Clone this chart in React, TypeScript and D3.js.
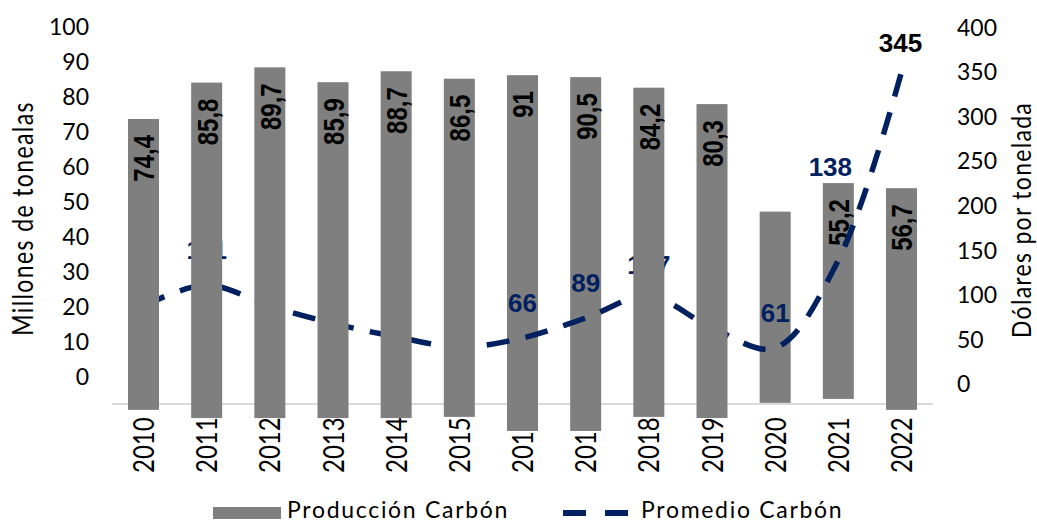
import React from "react";
import * as d3 from "d3";

// categories and values
const years = ["2010", "2011", "2012", "2013", "2014", "2015", "2016", "2017", "2018", "2019", "2020", "2021", "2022"];
const yearTicks = ["2010", "2011", "2012", "2013", "2014", "2015", "201", "201", "2018", "2019", "2020", "2021", "2022"];
const production = [74.4, 85.8, 89.7, 85.9, 88.7, 86.5, 91, 90.5, 84.2, 80.3, 48.9, 55.2, 56.7];
const productionLabels = ["74,4", "85,8", "89,7", "85,9", "88,7", "86,5", "91", "90,5", "84,2", "80,3", "", "55,2", "56,7"];
// how far each bar hangs below the zero line (same units as production)
const barDrop = [1.5, 3.6, 3.6, 3.6, 3.6, 3.3, 6.9, 6.9, 3.3, 3.6, -0.3, -1.3, 1.5];
const price = [87.5, 111, 87.5, 68, 53, 41.5, 51.6, 74, 98.7, 63, 40.4, 139, 350];
const priceLabels = ["", "111", "", "", "", "", "66", "89", "107", "", "61", "138", "345"];
const leftTicks = [0, 10, 20, 30, 40, 50, 60, 70, 80, 90, 100];
const rightTicks = [0, 50, 100, 150, 200, 250, 300, 350, 400];
// years where the price line is drawn over the bar
const lineOverBar = ["2016", "2017", "2020", "2021", "2022"];

const W = 1037;
const H = 522;
const navy = "#002060";
const grey = "#7f7f7f";
const axisFont = "Lato, 'Open Sans', sans-serif";
const boldFont = "'Liberation Sans', Arial, sans-serif";

const x = d3.scalePoint<string>().domain(years).range([143.5, 901.5]);
const yLeft = d3.scaleLinear().domain([0, 100]).range([376.7, 26.7]);
const yRight = d3.scaleLinear().domain([0, 400]).range([384, 27.4]);
const yBar = d3.scaleLinear().domain([0, 100]).range([404, 13]);
const barW = 31;

const labelNudge: Record<string, { dx: number; lift: number }> = {
  "2018": { dx: 0, lift: 31 },
  "2021": { dx: -8, lift: 93 },
  "2022": { dx: -1, lift: 29 },
};

const pricePath = d3
  .line<number>()
  .x((_, i) => x(years[i]) as number)
  .y((d) => yRight(d))
  .curve(d3.curveCatmullRom.alpha(0.5))(price) as string;

const Bar = ({ i }: { i: number }) => {
  const cx = x(years[i]) as number;
  const top = yBar(production[i] - barDrop[i]);
  const bottom = yBar(-barDrop[i]);
  return (
    <g>
      <rect x={cx - barW / 2} y={top} width={barW} height={bottom - top} fill={grey} />
      {productionLabels[i] && (
        <text
          transform={`translate(${cx},${top + 16}) rotate(-90) scale(1,1.26)`}
          textAnchor="end"
          dy="0.36em"
          fontFamily={boldFont}
          fontWeight="bold"
          fontSize={24}
          fill="#000"
        >
          {productionLabels[i]}
        </text>
      )}
    </g>
  );
};

const PriceLine = () => (
  <g>
    <path d={pricePath} fill="none" stroke={navy} strokeWidth={5.5} strokeDasharray="23 16.5" />
    {priceLabels.map((t, i) => {
      if (!t) return null;
      const nudge = labelNudge[years[i]] || { dx: 0, lift: 35 };
      return (
        <text
          key={years[i]}
          x={(x(years[i]) as number) + nudge.dx}
          y={yRight(price[i]) - nudge.lift}
          dy="0.36em"
          textAnchor="middle"
          fontFamily={boldFont}
          fontWeight="bold"
          fontSize={26}
          fill={years[i] === "2022" ? "#000" : navy}
        >
          {t}
        </text>
      );
    })}
  </g>
);

export default function App() {
  const under = years.map((_, i) => i).filter((i) => lineOverBar.includes(years[i]));
  const over = years.map((_, i) => i).filter((i) => !lineOverBar.includes(years[i]));
  return (
    <svg
      width={W}
      height={H}
      style={{ position: "absolute", left: 0, top: 0, background: "#fff" }}
    >
      {/* left axis */}
      {leftTicks.map((t) => (
        <text key={t} x={89} y={yLeft(t)} dy="0.36em" textAnchor="end" fontFamily={axisFont} fontSize={23} fill="#000">
          {t}
        </text>
      ))}
      <text
        transform={`translate(23,218.5) rotate(-90) scale(1,1.22)`}
        textAnchor="middle"
        dy="0.36em"
        fontFamily={axisFont}
        fontSize={23}
        letterSpacing={1.4}
        fill="#000"
      >
        Millones de tonealas
      </text>

      {/* right axis */}
      {rightTicks.map((t) => (
        <text key={t} x={957} y={yRight(t)} dy="0.36em" textAnchor="start" fontFamily={axisFont} fontSize={23} fill="#000">
          {t}
        </text>
      ))}
      <text
        transform={`translate(1021,220) rotate(-90) scale(1,1.2)`}
        textAnchor="middle"
        dy="0.36em"
        fontFamily={axisFont}
        fontSize={23}
        letterSpacing={1.3}
        fill="#000"
      >
        Dólares por tonelada
      </text>

      {/* baseline */}
      <line x1={112} x2={933} y1={404} y2={404} stroke="#d9d9d9" strokeWidth={2} />

      {under.map((i) => (
        <Bar key={years[i]} i={i} />
      ))}
      <PriceLine />
      {over.map((i) => (
        <Bar key={years[i]} i={i} />
      ))}

      {/* category labels */}
      {yearTicks.map((t, i) => (
        <text
          key={years[i]}
          transform={`translate(${x(years[i])},473) rotate(-90) scale(1,1.22)`}
          textAnchor="start"
          dy="0.36em"
          fontFamily={axisFont}
          fontSize={24}
          fill="#000"
        >
          {t}
        </text>
      ))}

      {/* legend */}
      <rect x={213} y={507} width={68} height={12} fill={grey} />
      <text x={287} y={518} fontFamily={axisFont} fontSize={23} letterSpacing={1.7} fill="#000">
        Producción Carbón
      </text>
      <line x1={563} x2={628} y1={513} y2={513} stroke={navy} strokeWidth={6} strokeDasharray="23 19" />
      <text x={641} y={518} fontFamily={axisFont} fontSize={23} letterSpacing={1.7} fill="#000">
        Promedio Carbón
      </text>
    </svg>
  );
}
